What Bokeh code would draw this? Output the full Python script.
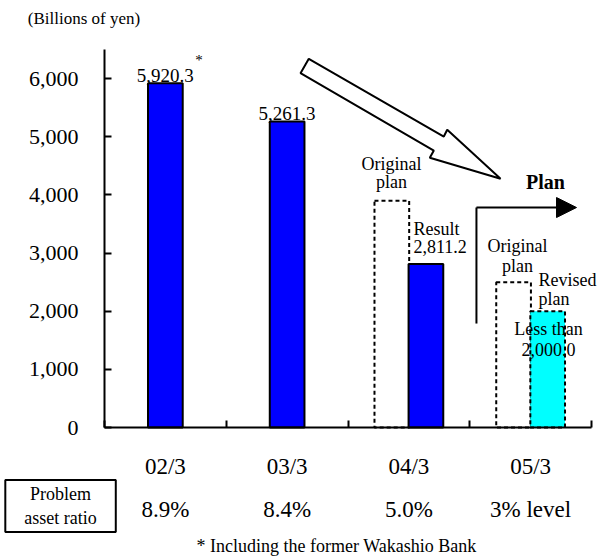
from bokeh.plotting import figure
from bokeh.models import (Range1d, FixedTicker, NumeralTickFormatter, Label,
                          PolyAnnotation, Arrow, NormalHead)
from bokeh.core.properties import value
from bokeh.embed import file_html
from bokeh.resources import INLINE

# ---------------- data ----------------
categories = ["02/3", "03/3", "04/3", "05/3"]
ratio_labels = ["8.9%", "8.4%", "5.0%", "3% level"]
result_values = [5920.3, 5261.3, 2811.2]      # 02/3, 03/3, 04/3 (result)
original_plan = [3900, 2500]                  # 04/3, 05/3 original plan
revised_plan = [2000.0]                       # 05/3 revised plan
y_ticks = [0, 1000, 2000, 3000, 4000, 5000, 6000]

FONT = "Liberation Serif"
W = 0.285
OFF = 0.14

centers = [i + 0.5 for i in range(len(categories))]
result_x = [centers[0], centers[1], centers[2] + OFF]
plan_x = [centers[2] - OFF, centers[3] - OFF]
revised_x = [centers[3] + OFF]

# frame covers the whole canvas; axes are pinned at x=0 / y=0 with bounds
p = figure(width=599, height=556, output_backend="svg", toolbar_location=None,
           x_range=Range1d(-0.8542, 4.0657), y_range=Range1d(-2218, 7343),
           min_border=0, min_border_left=0, min_border_right=0,
           min_border_top=0, min_border_bottom=0)
p.outline_line_color = None
p.grid.visible = False
p.background_fill_color = "white"
p.border_fill_color = "white"

# ---------------- bars ----------------
p.vbar(x=plan_x, top=original_plan, bottom=0, width=W, fill_color=None,
       line_color="black", line_width=2, line_dash="4 3")
p.vbar(x=revised_x, top=revised_plan, bottom=0, width=W, fill_color="#00FFFF",
       line_color="black", line_width=2, line_dash="4 3")
p.vbar(x=result_x, top=result_values, bottom=0, width=W, fill_color="#0000FF",
       line_color="black", line_width=2)

p.text(x=result_x[:2], y=[v + 130 for v in result_values[:2]],
       text=[f"{v:,.1f}" for v in result_values[:2]],
       text_font=value(FONT), text_font_size="19px", text_color="black",
       text_align="center", text_baseline="middle")

# ---------------- axes ----------------
xa = p.xaxis[0]
xa.fixed_location = 0
xa.bounds = (0, 4)
xa.ticker = FixedTicker(ticks=centers, minor_ticks=[0, 1, 2, 3, 4])
xa.major_label_overrides = {c: lab for c, lab in zip(centers, categories)}
xa.major_tick_in = 0
xa.major_tick_out = 0
xa.minor_tick_in = 7
xa.minor_tick_out = 0
xa.minor_tick_line_width = 2
xa.minor_tick_line_color = "black"
xa.axis_line_width = 2
xa.axis_line_color = "black"
xa.major_label_text_font = FONT
xa.major_label_text_font_size = "23px"
xa.major_label_text_color = "black"
xa.major_label_standoff = 26

ya = p.yaxis[0]
ya.fixed_location = 0
ya.bounds = (0, 6500)
ya.ticker = FixedTicker(ticks=y_ticks)
ya.formatter = NumeralTickFormatter(format="0,0")
ya.major_tick_in = 7
ya.major_tick_out = 0
ya.major_tick_line_width = 2
ya.major_tick_line_color = "black"
ya.minor_tick_line_color = None
ya.axis_line_width = 2
ya.axis_line_color = "black"
ya.major_label_text_font = FONT
ya.major_label_text_font_size = "22px"
ya.major_label_text_color = "black"
ya.major_label_standoff = 26


def lab(x, y, text, size="18px", align="left", style="normal", **kw):
    p.add_layout(Label(x=x, y=y, text=text, text_font=FONT, text_font_size=size,
                       text_align=align, text_baseline="middle", text_color="black",
                       text_font_style=style, **kw))


# ---------------- annotations ----------------
lab(-0.168, 7042, "(Billions of yen)", size="17px", align="center")
lab(0.776, 6328, "*", size="15px", align="center")

lab(2.357, 4540, "Original", align="center")
lab(2.357, 4230, "plan", align="center")
lab(2.538, 3422, "Result")
lab(2.538, result_values[2] + 302, f"{result_values[2]:,.1f}")

lab(3.622, 4222, "Plan", size="20px", align="center", style="bold")

lab(3.392, 3113, "Original", align="center")
lab(3.392, 2769, "plan", align="center")
lab(3.565, 2545, "Revised")
lab(3.565, 2218, "plan")
lab(3.647, 1702, "Less than", align="center")
lab(3.647, 1341, f"{revised_plan[0]:,.1f}", align="center")

for c, r in zip(centers, ratio_labels):
    lab(c, -1402, r, size="23px", align="center")

p.add_layout(Label(x=-0.361, y=-1350, text="Problem\nasset ratio", text_font=FONT,
                   text_font_size="18px", text_align="center", text_baseline="middle",
                   text_color="black", border_line_color="black", border_line_width=2,
                   background_fill_color="white", padding=(19, 4)))

lab(1.906, -2029, "* Including the former Wakashio Bank", align="center")

# big hollow arrow
p.add_layout(PolyAnnotation(
    xs=[1.678, 2.787, 2.815, 3.253, 2.672, 2.705, 1.610],
    ys=[6340, 5004, 5120, 4277, 4638, 4763, 6093],
    fill_color="white", fill_alpha=1.0, line_color="black", line_alpha=1.0,
    line_width=2))

# L-shaped plan arrow
p.add_layout(Arrow(x_start=3.055, y_start=1788, x_end=3.055, y_end=3783, end=None,
                   line_color="black", line_width=2))
p.add_layout(Arrow(x_start=3.055, y_start=3783, x_end=3.877, y_end=3783,
                   end=NormalHead(size=20, fill_color="black", line_color="black"),
                   line_color="black", line_width=2))

open("out.html", "w").write(file_html(p, INLINE))
